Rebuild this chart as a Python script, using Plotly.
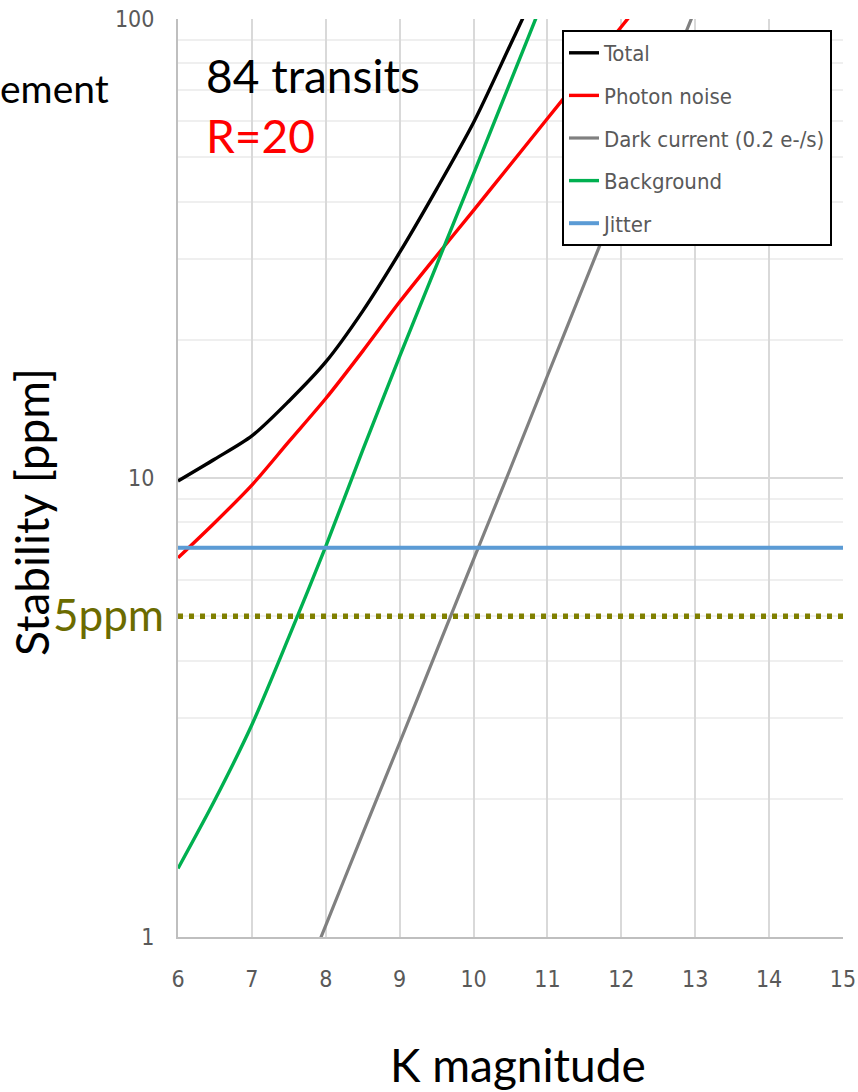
import plotly.graph_objects as go

# K magnitudes
k_mag = [6, 6.5, 7, 7.5, 8, 8.5, 9, 9.5, 10, 10.5, 11, 11.5, 12, 12.5, 13, 13.5, 14, 14.5, 15]

total = [9.85, 11.0, 12.35, 14.7, 17.9, 23.1, 31.0, 42.6, 59.5, 88, 131, 200, 306, 475, 740, 1160, 1830, 2890, 4570]
photon = [6.7, 8.0, 9.65, 12.0, 14.9, 18.9, 24.2, 30.5, 38.3, 48.2, 60.7, 76.4, 96.2, 121, 152, 192, 241, 304, 383]
dark = [0.17, 0.27, 0.42, 0.67, 1.06, 1.68, 2.65, 4.2, 6.65, 10.5, 16.7, 26.5, 42, 66.5, 105, 167, 265, 420, 665]
background = [1.41, 1.99, 2.9, 4.5, 7.1, 11.5, 18.4, 29.1, 46, 73, 116, 184, 291, 461, 731, 1160, 1840, 2910, 4610]
jitter = [7.05] * len(k_mag)
requirement = [5] * len(k_mag)

series_names = ["Total", "Photon noise", "Dark current (0.2 e-/s)", "Background", "Jitter"]
series_values = [total, photon, dark, background, jitter]
series_colors = ["#000000", "#FF0000", "#808080", "#00B050", "#5B9BD5"]
series_widths = [3.4, 3.4, 3.2, 3.4, 4]

y_tick_vals = [1, 10, 100]
y_tick_text = ["1", "10", "100"]
y_minor_vals = [2, 3, 4, 5, 6, 7, 8, 9, 20, 30, 40, 50, 60, 70, 80, 90]
x_tick_vals = [6, 7, 8, 9, 10, 11, 12, 13, 14, 15]

TEXT_FONT = "Lato, 'Open Sans', sans-serif"
NARROW_FONT = "'Liberation Sans Narrow', 'Noto Sans Condensed', 'DejaVu Sans Condensed', 'Arial Narrow', sans-serif"

fig = go.Figure()

# 5 ppm requirement line (not in legend)
fig.add_trace(go.Scatter(
    x=k_mag, y=requirement, mode="lines", showlegend=False, hoverinfo="skip",
    line=dict(color="#808000", width=5.5, dash="5px,6px"),
))

for i, (name, vals, col, w) in enumerate(zip(series_names, series_values, series_colors, series_widths)):
    fig.add_trace(go.Scatter(
        x=k_mag, y=vals, mode="lines", name=name, legendgroup=f"g{i}",
        line=dict(color=col, width=w, shape="spline", smoothing=0.8),
    ))

fig.update_layout(
    width=858, height=1092,
    margin=dict(l=178, r=15, t=19, b=155),
    paper_bgcolor="white", plot_bgcolor="white",
    showlegend=True,
    legend=dict(
        x=(562 - 178) / 665, y=(937 - 30) / 918, xanchor="left", yanchor="top",
        xref="paper", yref="paper",
        bgcolor="white", bordercolor="#000000", borderwidth=2,
        font=dict(family=NARROW_FONT, size=22, color="#595959"),
        tracegroupgap=11, itemwidth=30,
    ),
    xaxis=dict(
        range=[6, 15], tickvals=x_tick_vals, showgrid=True, gridcolor="#d9d9d9", gridwidth=1.5,
        showline=True, linecolor="#bfbfbf", linewidth=2, zeroline=False, automargin=False,
        tickfont=dict(family=NARROW_FONT, size=23, color="#595959"),
        ticks="", ticklabelstandoff=20,
    ),
    yaxis=dict(
        type="log", range=[0, 2], tickvals=y_tick_vals, ticktext=y_tick_text,
        showgrid=True, gridcolor="#d9d9d9", gridwidth=2, automargin=False,
        minor=dict(tickvals=y_minor_vals, showgrid=True, gridcolor="#efefef", gridwidth=2, ticks=""),
        showline=True, linecolor="#bfbfbf", linewidth=2, zeroline=False,
        tickfont=dict(family=NARROW_FONT, size=23, color="#595959"),
        ticks="", ticklabelstandoff=17,
    ),
)

def px_x(px):
    return (px - 178) / 665

def px_y(py):
    return (937 - py) / 918

annotations = [
    dict(text="84 transits", x=px_x(204), y=px_y(75), xanchor="left", yanchor="middle",
         font=dict(family=TEXT_FONT, size=46, color="#000000")),
    dict(text="R=20", x=px_x(204), y=px_y(135), xanchor="left", yanchor="middle",
         font=dict(family=TEXT_FONT, size=46, color="#FF0000")),
    dict(text="ement", x=px_x(111), y=px_y(88), xanchor="right", yanchor="middle",
         font=dict(family=TEXT_FONT, size=39, color="#000000")),
    dict(text="5ppm", x=px_x(166), y=px_y(614), xanchor="right", yanchor="middle",
         font=dict(family=TEXT_FONT, size=44, color="#6B6B00")),
    dict(text="Stability [ppm]", x=px_x(32), y=px_y(512), xanchor="center", yanchor="middle",
         textangle=-90, font=dict(family=TEXT_FONT, size=46, color="#000000")),
    dict(text="K magnitude", x=px_x(518), y=px_y(1064), xanchor="center", yanchor="middle",
         font=dict(family=TEXT_FONT, size=46, color="#000000")),
]
for a in annotations:
    a.update(xref="paper", yref="paper", showarrow=False)
fig.update_layout(annotations=annotations)

fig.write_html(
    "out.html",
    config={"displayModeBar": False},
    post_script="document.body.style.margin='0';document.body.style.overflow='hidden';",
)
